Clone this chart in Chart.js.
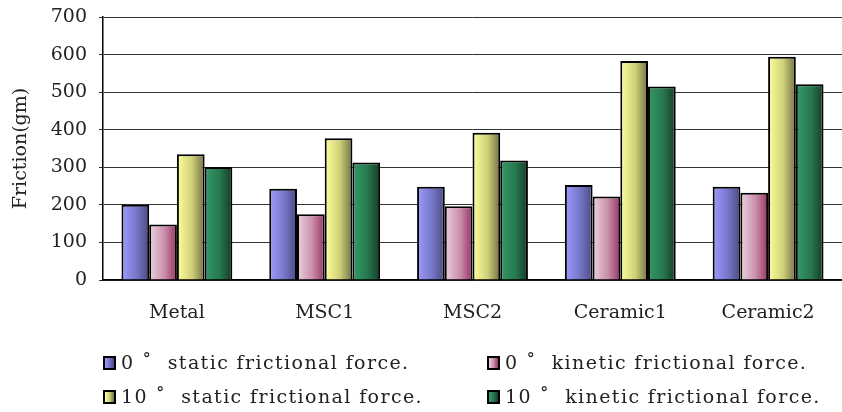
<!DOCTYPE html>
<html>
<head>
<meta charset="utf-8">
<script src="https://cdn.jsdelivr.net/npm/chart.js@4/dist/chart.umd.min.js"></script>
<style>
  body { margin: 0; background: #fff; }
  #wrap { position: relative; width: 842px; height: 412px; }
  .leg { position: absolute; font-family: "DejaVu Serif", serif; font-size: 19px; color: #222; white-space: pre; line-height: 20px; letter-spacing: 1.4px; }
  .sw { position: absolute; width: 9px; height: 10px; border: 2px solid #000; }
</style>
</head>
<body>
<div id="wrap">
  <canvas id="data-chart" width="842" height="412"></canvas>
  <div id="legend"></div>
</div>
<script>
var categories = ["Metal", "MSC1", "MSC2", "Ceramic1", "Ceramic2"];
var static0 = [200, 243, 248, 253, 248];
var kinetic0 = [148, 175, 196, 222, 232];
var static10 = [335, 377, 392, 583, 594];
var kinetic10 = [301, 313, 318, 515, 521];
var seriesNames = ["0 \u02DA  static frictional force.", "0 \u02DA  kinetic frictional force.",
                   "10 \u02DA  static frictional force.", "10 \u02DA  kinetic frictional force."];

// left -> right shading of each bar
var shades = [
    ["#9c9cff", "#7676c8", "#4a4a80"],
    ["#ecd2df", "#c98fab", "#993366"],
    ["#ffff9c", "#cfcf78", "#6f6f45"],
    ["#349a67", "#26784f", "#163a27"]
];

var serif = "'DejaVu Serif', serif";

// a gradient per bar, built from the bar's own position
function barFill(c) {
    var i = c.datasetIndex;
    var bar = c.chart.getDatasetMeta(i).data[c.dataIndex];
    if (!bar || bar.x === undefined || !bar.width) return shades[i][1];
    var g = c.chart.ctx.createLinearGradient(bar.x - bar.width / 2, 0, bar.x + bar.width / 2, 0);
    g.addColorStop(0, shades[i][0]);
    g.addColorStop(0.55, shades[i][1]);
    g.addColorStop(1, shades[i][2]);
    return g;
}

function makeSet(name, values) {
    return {
        label: name,
        data: values,
        backgroundColor: barFill,
        borderColor: "#000",
        borderWidth: 2,
        categoryPercentage: 0.75,
        barPercentage: 1
    };
}

var ctx = document.getElementById("data-chart");
var chart = new Chart(ctx, {
    type: "bar",
    data: {
        labels: categories,
        datasets: [
            makeSet(seriesNames[0], static0),
            makeSet(seriesNames[1], kinetic0),
            makeSet(seriesNames[2], static10),
            makeSet(seriesNames[3], kinetic10)
        ]
    },
    options: {
        responsive: false,
        animation: false,
        layout: { padding: { top: 17, right: 0, bottom: 72, left: 10 } },
        plugins: {
            legend: { display: false },
            tooltip: { enabled: false }
        },
        scales: {
            x: {
                grid: { display: false },
                border: { color: "#000", width: 1.5 },
                ticks: { color: "#222", padding: 14, font: { family: serif, size: 19 } },
                afterFit: function(s) { s.height = 60; }
            },
            y: {
                min: 0,
                max: 700,
                ticks: { stepSize: 100, color: "#222", padding: 12, font: { family: serif, size: 19 } },
                grid: { color: "#333", lineWidth: 1, tickLength: 4 },
                border: { color: "#000", width: 1.5 },
                title: { display: true, text: "Friction(gm)", color: "#222", padding: 0, font: { family: serif, size: 19 } },
                afterFit: function(s) { s.width = 93; s.paddingTop = 0; s.paddingBottom = 0; }
            }
        }
    }
});
// second pass so every bar gradient sees its final position
chart.update();

// two-column legend under the plot
var legend = document.getElementById("legend");
var legPos = [[103, 352], [487, 352], [103, 386], [487, 386]];
seriesNames.forEach(function(name, i) {
    var sw = document.createElement("div");
    sw.className = "sw";
    sw.style.left = legPos[i][0] + "px";
    sw.style.top = (legPos[i][1] + 4) + "px";
    sw.style.background = "linear-gradient(to right," + shades[i].join(",") + ")";
    legend.appendChild(sw);
    var t = document.createElement("div");
    t.className = "leg";
    t.style.left = (legPos[i][0] + 18) + "px";
    t.style.top = legPos[i][1] + "px";
    t.textContent = name;
    legend.appendChild(t);
});
</script>
</body>
</html>
